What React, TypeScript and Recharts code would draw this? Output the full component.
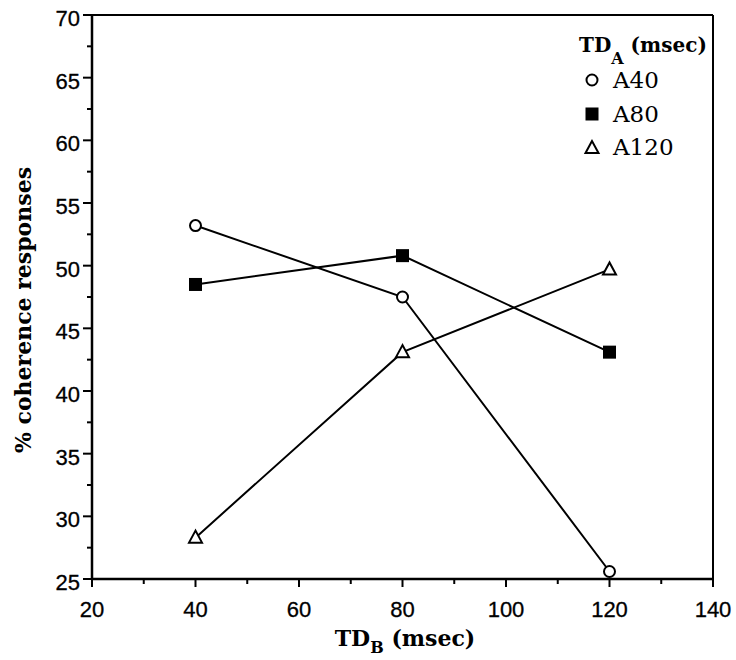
import React from 'react';
import { LineChart, Line, XAxis, YAxis, ReferenceLine, Customized } from 'recharts';

const tdB = [40, 80, 120];
const a40 = [53.2, 47.5, 25.6];
const a80 = [48.5, 50.8, 43.1];
const a120 = [28.3, 43.1, 49.7];
const seriesNames = ['A40', 'A80', 'A120'];
const xTicks = [20, 30, 40, 50, 60, 70, 80, 90, 100, 110, 120, 130, 140];
const yTicks = [25, 27.5, 30, 32.5, 35, 37.5, 40, 42.5, 45, 47.5, 50, 52.5, 55, 57.5, 60, 62.5, 65, 67.5, 70];

const data = tdB.map((x, i) => ({ x, a40: a40[i], a80: a80[i], a120: a120[i] }));

const sansFont = '"Liberation Sans", Arial, sans-serif';
const serifFont = '"DejaVu Serif", serif';

const CircleDot = (p: any) => (
  <circle key={p.key} cx={p.cx} cy={p.cy} r={5.5} fill="#fff" stroke="#000" strokeWidth={2} />
);
const SquareDot = (p: any) => (
  <rect key={p.key} x={p.cx - 6.5} y={p.cy - 6.5} width={13} height={13} fill="#000" />
);
const TriDot = (p: any) => (
  <polygon
    key={p.key}
    points={`${p.cx},${p.cy - 7} ${p.cx - 6.5},${p.cy + 5} ${p.cx + 6.5},${p.cy + 5}`}
    fill="#fff"
    stroke="#000"
    strokeWidth={2}
  />
);

const XTick = (p: any) => {
  const v = p.payload.value;
  const major = v % 20 === 0;
  return (
    <g>
      <line x1={p.x} y1={p.y} x2={p.x} y2={p.y + (major ? 8 : 5)} stroke="#000" strokeWidth={2} />
      {major && (
        <text x={p.x} y={p.y + 38} textAnchor="middle" fontSize={22} fontFamily={sansFont} fill="#000" stroke="#000" strokeWidth={0.3}>
          {v}
        </text>
      )}
    </g>
  );
};

const YTick = (p: any) => {
  const v = p.payload.value;
  const major = v % 5 === 0;
  return (
    <g>
      <line x1={p.x} y1={p.y} x2={p.x - (major ? 9 : 5)} y2={p.y} stroke="#000" strokeWidth={2} />
      {major && (
        <text x={p.x - 12} y={p.y + 11} textAnchor="end" fontSize={22} fontFamily={sansFont} fill="#000" stroke="#000" strokeWidth={0.3}>
          {v}
        </text>
      )}
    </g>
  );
};

const Texts = () => (
  <g>
    <text
      transform="translate(31, 310) rotate(-90)"
      textAnchor="middle"
      fontSize={22}
      fontWeight="bold"
      fontFamily={serifFont}
      fill="#000"
    >
      % coherence responses
    </text>
    <text x={405} y={646} textAnchor="middle" fontSize={22} fontWeight="bold" fontFamily={serifFont} fill="#000">
      TD<tspan fontSize={16} dy={7}>B</tspan>
      <tspan dy={-7}> (msec)</tspan>
    </text>
    <text x={579} y={52} fontSize={20} fontWeight="bold" fontFamily={serifFont} fill="#000">
      TD<tspan fontSize={16} dy={12}>A</tspan>
      <tspan dy={-12}> (msec)</tspan>
    </text>
    <CircleDot cx={592} cy={80} />
    <text x={613} y={88} fontSize={23} fontFamily={serifFont} fill="#000">{seriesNames[0]}</text>
    <SquareDot cx={592} cy={114} />
    <text x={613} y={122} fontSize={23} fontFamily={serifFont} fill="#000">{seriesNames[1]}</text>
    <TriDot cx={592} cy={148} />
    <text x={613} y={155} fontSize={23} fontFamily={serifFont} fill="#000">{seriesNames[2]}</text>
  </g>
);

export default function App() {
  return (
    <div style={{ position: 'absolute', left: 0, top: 0, background: '#fff' }}>
      <LineChart width={736} height={660} data={data} margin={{ top: 15, right: 23, bottom: 0, left: 0 }}>
        <XAxis
          type="number"
          dataKey="x"
          domain={[20, 140]}
          ticks={xTicks}
          interval={0}
          tickSize={0}
          tickMargin={0}
          tickLine={false}
          tick={<XTick />}
          height={81}
          axisLine={{ stroke: '#000', strokeWidth: 2.5 }}
          allowDataOverflow
        />
        <YAxis
          type="number"
          domain={[25, 70]}
          ticks={yTicks}
          interval={0}
          tickSize={0}
          tickMargin={0}
          tickLine={false}
          tick={<YTick />}
          width={92}
          axisLine={{ stroke: '#000', strokeWidth: 2.5 }}
          allowDataOverflow
        />
        <ReferenceLine y={70} stroke="#000" strokeWidth={2} />
        <ReferenceLine x={140} stroke="#000" strokeWidth={2} />
        <Line dataKey="a40" name={seriesNames[0]} stroke="#000" strokeWidth={2} dot={CircleDot} isAnimationActive={false} />
        <Line dataKey="a80" name={seriesNames[1]} stroke="#000" strokeWidth={2} dot={SquareDot} isAnimationActive={false} />
        <Line dataKey="a120" name={seriesNames[2]} stroke="#000" strokeWidth={2} dot={TriDot} isAnimationActive={false} />
        <Customized component={Texts} />
      </LineChart>
    </div>
  );
}
